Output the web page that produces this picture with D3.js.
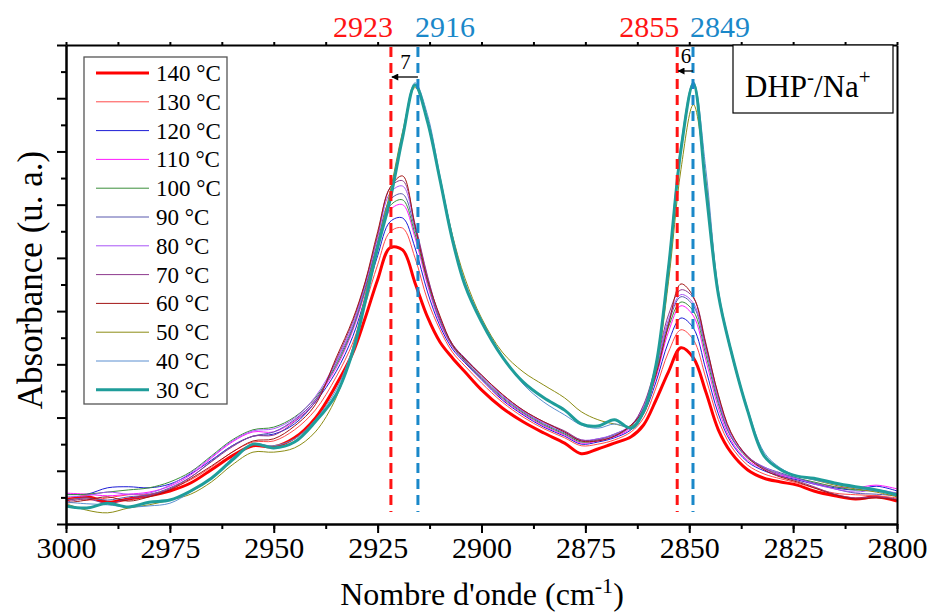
<!DOCTYPE html>
<html><head><meta charset="utf-8">
<script src="https://cdn.jsdelivr.net/npm/d3@7"></script>
<style>
body{margin:0;background:#fff}
svg{display:block}
</style>
</head><body>
<svg id="chart" width="931" height="613"></svg>
<script>
// ---------- DATA ----------
const wavenumbers = [3000,2995,2990,2985,2980,2975,2970,2965,2960,2955,2950,2945,2940,2935,2931,2928,2925,2922,2919,2916,2913,2910,2907,2904,2900,2895,2890,2885,2880,2876,2872,2868,2864,2861,2858,2855,2852,2849,2846,2843,2840,2836,2832,2828,2824,2820,2815,2810,2805,2800];

const temperatures = ["140 °C","130 °C","120 °C","110 °C","100 °C","90 °C","80 °C","70 °C","60 °C","50 °C","40 °C","30 °C"];

const abs140 = [4.5,5.1,4.1,4.7,5.3,6.2,7.7,10.2,12.8,14.7,14.5,16.2,19.9,26.1,32.1,38.7,45.9,51.9,51.5,45.3,38.9,34.2,31.2,28.6,25.2,21.8,19.2,17.1,15.2,13.2,14.1,15.2,16.4,18.6,23.3,28.6,33.1,31.2,24.8,17.7,13.5,10.2,8.6,7.9,7.3,6.2,5.3,4.7,5.1,4.3];
const abs130 = [5.1,4.5,4.9,5.5,5.6,6.6,8.3,10.7,13.5,15.4,15.6,17.7,21.4,27.6,34.0,41.2,48.7,54.9,55.6,50.0,42.1,36.5,32.3,29.7,26.5,22.9,20.1,17.9,16.2,14.7,15.0,15.8,17.3,19.9,25.6,32.3,36.5,34.6,27.4,19.6,14.7,11.1,9.4,8.5,7.7,6.8,5.8,5.5,5.3,4.9];
const abs120 = [5.6,5.6,6.8,7.0,6.8,7.5,9.4,12.0,14.7,16.5,16.9,18.8,22.9,28.6,35.2,42.5,50.4,56.8,57.5,51.9,43.6,37.2,32.9,30.3,27.1,23.3,20.5,18.2,16.5,15.0,15.4,16.2,17.7,20.7,26.7,34.2,38.7,36.8,29.0,20.7,15.4,11.7,10.0,9.0,8.3,7.5,6.8,6.4,7.1,6.2];
const abs110 = [5.8,5.6,5.3,5.6,6.0,7.1,9.2,12.4,15.4,17.3,17.3,19.4,23.3,29.3,36.3,43.6,51.9,59.0,60.0,53.8,44.9,37.8,33.3,30.5,27.3,23.5,20.7,18.4,16.7,15.2,15.6,16.4,18.0,21.2,27.6,36.1,41.0,39.1,30.8,21.8,15.8,12.0,10.3,9.2,8.5,7.7,7.0,6.8,7.3,6.6];
const abs100 = [5.5,5.6,6.0,6.4,6.8,7.9,9.8,12.8,15.8,17.7,18.2,20.1,23.7,29.7,36.7,44.0,52.5,59.8,60.9,54.5,45.5,38.2,33.5,30.6,27.4,23.7,20.9,18.6,16.9,15.4,15.8,16.9,18.4,21.6,28.4,37.0,41.7,40.0,31.8,22.6,16.4,12.4,10.5,9.4,8.6,7.9,7.0,6.4,6.2,5.8];
const abs90  = [4.5,4.9,4.5,5.1,5.5,6.8,8.8,11.8,14.7,16.5,17.3,19.6,23.3,30.1,37.0,44.4,53.0,60.9,62.0,55.3,45.9,38.4,33.7,30.8,27.6,23.9,21.1,18.8,17.1,15.6,16.0,16.7,18.4,21.8,28.8,37.8,42.7,41.0,32.7,23.1,16.5,12.6,10.7,9.6,8.6,7.7,6.6,5.8,5.6,5.3];
const abs80  = [5.1,5.3,6.0,5.6,5.8,7.3,9.6,12.6,15.6,17.5,17.9,19.9,23.9,30.5,37.4,44.9,53.8,62.2,63.5,56.0,46.4,38.7,33.8,31.0,27.8,24.1,21.2,19.0,17.3,15.8,16.0,16.9,18.6,22.2,29.3,38.4,43.1,41.5,33.1,23.5,16.7,12.6,10.7,9.4,8.5,7.5,6.6,6.0,6.4,5.8];
const abs70  = [4.1,4.7,3.9,4.7,5.3,6.6,8.8,11.7,14.5,16.5,16.7,19.2,22.9,30.8,38.0,45.3,54.3,63.2,64.5,56.4,46.6,38.7,33.8,31.2,28.0,24.3,21.4,19.2,17.5,15.8,15.8,16.5,18.4,22.4,29.9,39.3,44.0,42.5,34.0,24.1,17.1,12.8,10.5,9.0,8.1,7.0,5.6,4.9,5.1,4.7];
const abs60  = [3.9,4.5,5.1,4.3,5.1,6.4,8.5,10.9,13.5,15.6,16.0,18.4,22.4,31.2,38.4,45.5,54.9,63.2,65.4,56.0,45.9,39.1,33.7,31.0,28.0,24.4,21.4,19.2,17.3,15.6,15.6,16.5,18.6,21.4,28.0,37.4,45.1,42.7,33.7,24.3,17.3,12.6,10.2,8.8,7.9,6.8,5.5,4.7,4.9,4.5];
const abs50  = [3.8,2.6,2.1,3.0,3.6,4.5,5.6,7.9,11.1,13.5,13.5,14.3,17.3,23.7,33.1,42.9,52.8,62.4,73.7,82.0,76.0,65.0,54.3,46.2,38.7,32.3,28.6,26.1,23.7,21.1,19.6,18.8,18.4,20.7,29.0,45.5,66.6,78.8,64.7,43.6,32.3,21.4,13.0,10.2,9.0,8.3,7.3,6.6,6.0,5.1];
const abs40  = [4.1,3.8,3.6,3.2,3.4,3.9,6.0,8.6,12.4,15.0,14.7,16.0,19.6,25.2,33.1,42.5,52.5,61.7,73.1,82.9,76.9,65.4,54.1,45.5,38.4,31.6,26.3,22.9,20.5,18.6,18.0,18.8,18.2,21.4,29.9,48.7,71.3,83.1,66.6,44.0,33.1,21.8,13.5,10.5,9.0,8.3,7.5,6.8,6.2,5.3];
const abs30  = [3.4,3.0,3.9,3.2,4.1,4.5,6.2,8.6,12.0,15.0,14.3,15.4,19.2,24.3,32.3,41.7,51.9,60.9,72.6,82.5,75.6,64.7,53.4,44.9,38.0,31.4,26.7,23.7,21.4,18.8,18.4,19.6,18.0,21.1,29.9,48.1,70.3,82.7,62.8,43.1,32.7,21.4,12.8,10.2,9.0,8.6,7.7,7.0,6.4,5.5];

const seriesValues = [abs140,abs130,abs120,abs110,abs100,abs90,abs80,abs70,abs60,abs50,abs40,abs30];

const xTickLabels = [3000,2975,2950,2925,2900,2875,2850,2825,2800];
const markerWavenumbers = [2921.8, 2915.3, 2852.9, 2849.1];
const markerLabels = ["2923","2916","2855","2849"];
const shiftLabels = ["7","6"];

// ---------- STYLE ----------
const FONT = "'Liberation Serif', 'Times New Roman', Times, serif";
const seriesColors = ["#ff0000","#ff4a4a","#1c1cd6","#ff1aff","#3a8f3a","#5959ad","#a855f7","#8e3a8e","#a31515","#8c8c14","#5a8fd0","#1f9d9a"];
const seriesWidths = [3,1,1,1,1,1,1,1,1,1,1,3];
const red = "#ff1414", blue = "#1a88c9";

const svg = d3.select("#chart");
const L = 66, R = 897, T = 45, B = 524;
const x = d3.scaleLinear().domain([3000, 2800]).range([L, R]);
const y = d3.scaleLinear().domain([0, 90]).range([B, T]);

svg.append("clipPath").attr("id","clip").append("rect")
  .attr("x",L).attr("y",T).attr("width",R-L).attr("height",B-T);

// curves
const line = d3.line().x((d,i)=>x(wavenumbers[i])).y(d=>y(d)).curve(d3.curveCatmullRom.alpha(0.5));
const gCurves = svg.append("g").attr("clip-path","url(#clip)");
seriesValues.forEach((vals,k)=>{
  gCurves.append("path").datum(vals).attr("d",line)
    .attr("fill","none").attr("stroke",seriesColors[k])
    .attr("stroke-width",seriesWidths[k]).attr("stroke-linejoin","round");
});

// dashed markers
const markerColors = [red, blue, red, blue];
markerWavenumbers.forEach((w,i)=>{
  svg.append("line").attr("x1",x(w)).attr("x2",x(w)).attr("y1",47).attr("y2",512)
    .attr("stroke",markerColors[i]).attr("stroke-width",3).attr("stroke-dasharray","10,6");
  svg.append("text").attr("x", i%2===0 ? x(w)+2 : x(w)-3).attr("y",37)
    .attr("text-anchor", i%2===0 ? "end" : "start")
    .style("font-size","30px").style("fill",markerColors[i]).text(markerLabels[i]);
});

// shift arrows
svg.append("defs").append("marker").attr("id","ah").attr("viewBox","0 0 10 10")
  .attr("refX",9).attr("refY",5).attr("markerWidth",9).attr("markerHeight",7)
  .attr("markerUnits","userSpaceOnUse").attr("orient","auto")
  .append("path").attr("d","M0,0L10,5L0,10Z").attr("fill","#000");
const arrowY = [77, 71];
[[1,0],[3,2]].forEach(([from,to],j)=>{
  svg.append("line").attr("x1",x(markerWavenumbers[from])).attr("x2",x(markerWavenumbers[to])+1)
    .attr("y1",arrowY[j]).attr("y2",arrowY[j]).attr("stroke","#000").attr("stroke-width",1.3)
    .attr("marker-end","url(#ah)");
  svg.append("text").attr("x",(x(markerWavenumbers[from])+x(markerWavenumbers[to]))/2+1)
    .attr("y",arrowY[j]-8).attr("text-anchor","middle").style("font-size","21px").text(shiftLabels[j]);
});

// axes
const minorX = d3.range(3000, 2799, -12.5);
const gx = svg.append("g").attr("transform",`translate(0,${B})`)
  .call(d3.axisBottom(x).tickValues(xTickLabels).tickSize(9).tickSizeOuter(0).tickPadding(4).tickFormat(d3.format("d")));
gx.selectAll("text").style("font-size","30px");
svg.append("g").attr("transform",`translate(0,${B})`)
  .call(d3.axisBottom(x).tickValues(minorX).tickSize(5).tickSizeOuter(0).tickFormat(""));
svg.append("g").attr("transform",`translate(0,${T})`)
  .call(d3.axisTop(x).tickValues(minorX).tickSize(3).tickSizeOuter(0).tickFormat(""));
svg.append("g").attr("transform",`translate(${L},0)`)
  .call(d3.axisLeft(y).tickValues(d3.range(0,91,10)).tickSize(9).tickSizeOuter(0).tickFormat(""));
svg.append("g").attr("transform",`translate(${L},0)`)
  .call(d3.axisLeft(y).tickValues(d3.range(5,90,10)).tickSize(5).tickSizeOuter(0).tickFormat(""));
svg.append("g").attr("transform",`translate(${R},0)`)
  .call(d3.axisRight(y).tickValues([]).tickSizeOuter(0));
svg.selectAll(".domain").attr("stroke","#000").attr("stroke-width",2);
svg.selectAll(".tick line").attr("stroke","#000").attr("stroke-width",2);

// axis titles
const xt = svg.append("text").attr("x",482).attr("y",605).attr("text-anchor","middle").style("font-size","32px");
xt.append("tspan").text("Nombre d'onde (cm");
xt.append("tspan").attr("dy",-12).style("font-size","22px").text("-1");
xt.append("tspan").attr("dy",12).text(")");
svg.append("text").attr("transform","translate(42,280) rotate(-90)").attr("text-anchor","middle")
  .style("font-size","35px").text("Absorbance (u. a.)");

// legend
const lg = svg.append("g");
lg.append("rect").attr("x",84).attr("y",57).attr("width",143).attr("height",347)
  .attr("fill","#fff").attr("stroke","#555").attr("stroke-width",1.3);
temperatures.forEach((t,k)=>{
  const yy = 73 + k*28.8;
  lg.append("line").attr("x1",96).attr("x2",149).attr("y1",yy).attr("y2",yy)
    .attr("stroke",seriesColors[k]).attr("stroke-width",seriesWidths[k]);
  lg.append("text").attr("x",156).attr("y",yy+8).style("font-size","23px").text(t);
});

// sample label box
svg.append("rect").attr("x",733).attr("y",45).attr("width",160).attr("height",68)
  .attr("fill","#fff").attr("stroke","#000").attr("stroke-width",1.2);
const st = svg.append("text").attr("x",745).attr("y",97).style("font-size","31px");
st.append("tspan").text("DHP");
st.append("tspan").attr("dy",-13).style("font-size","21px").text("-");
st.append("tspan").attr("dy",13).text("/Na");
st.append("tspan").attr("dy",-13).style("font-size","21px").text("+");

// force serif font everywhere
svg.selectAll("g").attr("font-family", null);
svg.selectAll("text").style("font-family", FONT).each(function(){
  if (!this.style.fill) d3.select(this).style("fill","#000");
});
</script>
</body></html>
